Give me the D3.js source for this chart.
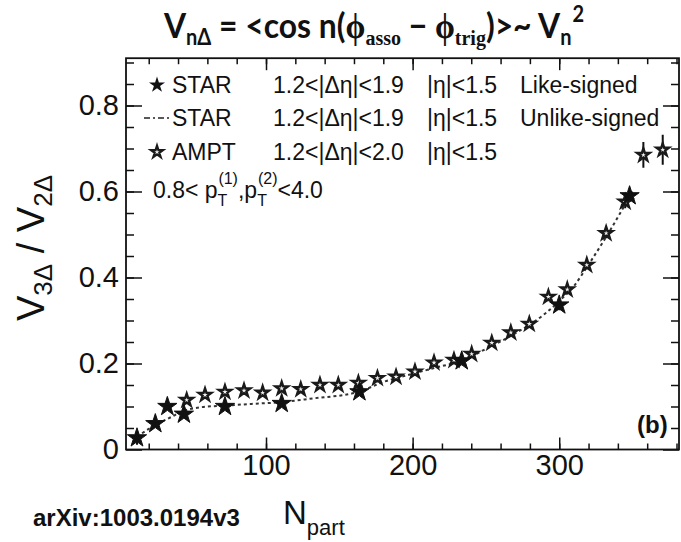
<!DOCTYPE html>
<html>
<head>
<meta charset="utf-8">
<script src="https://cdn.jsdelivr.net/npm/d3@7"></script>
<style>
  html, body { margin: 0; padding: 0; background: #fff; }
  svg { display: block; }
  text { fill: #111; }
</style>
</head>
<body>
<svg id="chart" width="681" height="542"></svg>
<script>
// STAR like-signed pairs (filled stars)
const starLikeNpart = [12, 24.5, 32.7, 44, 72, 110.7, 163.7, 233.5, 300, 348];
const starLikeRatio = [0.027, 0.06, 0.10, 0.082, 0.10, 0.107, 0.134, 0.206, 0.336, 0.59];
const starLikeErr   = [0.016, 0.008, 0.008, 0.008, 0.006, 0.006, 0.006, 0.006, 0.012, 0.014];

// AMPT (open stars)
const amptNpart = [45.9, 58.4, 72, 85, 97.7, 110.7, 123.7, 136.8, 149.3, 163, 176, 188.7, 201.6,
                   214.6, 228.2, 240.3, 254, 267, 279.6, 292.6, 305.5, 318.8, 332, 345, 357.4, 370.6];
const amptRatio = [0.115, 0.127, 0.134, 0.137, 0.132, 0.142, 0.14, 0.15, 0.15, 0.155, 0.166, 0.169, 0.181,
                   0.202, 0.208, 0.222, 0.248, 0.272, 0.292, 0.355, 0.372, 0.429, 0.503, 0.576, 0.685, 0.697];
const amptErr   = [0, 0, 0, 0, 0, 0, 0, 0, 0, 0, 0, 0, 0,
                   0, 0, 0, 0, 0, 0, 0.01, 0.01, 0.01, 0.012, 0.015, 0.03, 0.035];

// STAR unlike-signed pairs (dashed curve)
const unlikeNpart = [12, 25, 35, 44, 55, 72, 90, 110, 130, 163, 180, 200, 220, 233, 250, 270, 290, 300, 310, 320, 333, 345, 350];
const unlikeRatio = [0.03, 0.058, 0.075, 0.09, 0.098, 0.102, 0.106, 0.11, 0.118, 0.134, 0.157, 0.176, 0.194, 0.205,
                     0.234, 0.27, 0.315, 0.345, 0.38, 0.43, 0.5, 0.57, 0.6];

// Axis ticks
const xMajorTicks = [100, 200, 300];
const xMinorTicks = d3.range(20, 381, 20);
const yMajorTicks = [0, 0.2, 0.4, 0.6, 0.8];
const yMinorTicks = d3.range(0.05, 0.91, 0.05);

const svg = d3.select("#chart");
const L = 126, R = 679, T = 58.2, B = 449.5;

const x = d3.scaleLinear().domain([4.5, 381.7]).range([L, R]);
const y = d3.scaleLinear().domain([0, 0.91]).range([B, T]);

const FONT = "'Liberation Sans', Arial, Helvetica, sans-serif";
const SERIF = "'Liberation Serif', 'DejaVu Serif', serif";

// ---- Title ----
const title = svg.append("text")
  .attr("transform", "translate(374,38) scale(0.91,1)")
  .attr("text-anchor", "middle")
  .style("font-family", "Lato, 'Open Sans', sans-serif")
  .style("font-weight", "bold")
  .style("font-size", "35px");
title.append("tspan").text("V");
title.append("tspan").attr("dy", 7).style("font-size", "22px").text("nΔ");
title.append("tspan").attr("dy", -7).text(" = <cos n(");
title.append("tspan").style("font-family", SERIF).text("ϕ");
title.append("tspan").attr("dy", 7).style("font-size", "22px").style("font-family", SERIF).text("asso");
title.append("tspan").attr("dy", -7).text(" − ");
title.append("tspan").style("font-family", SERIF).text("ϕ");
title.append("tspan").attr("dy", 7).style("font-size", "22px").style("font-family", SERIF).text("trig");
title.append("tspan").attr("dy", -7).text(")>~ V");
title.append("tspan").attr("dy", 7).style("font-size", "22px").text("n");
title.append("tspan").attr("dy", -23).attr("dx", 1).style("font-size", "22px").text("2");

// ---- Axes: ticks point inward on all four sides ----
function styleAxis(g) {
  g.select(".domain").remove();
  g.selectAll(".tick line").attr("stroke", "#111").attr("stroke-width", 1.5);
  g.selectAll(".tick text").style("font-family", FONT).style("font-size", "29px").attr("fill", "#111");
}
const noLabel = () => "";

svg.append("g").attr("transform", `translate(0,${B})`)
  .call(d3.axisBottom(x).tickValues(xMinorTicks).tickSize(-6).tickFormat(noLabel)).call(styleAxis);
svg.append("g").attr("transform", `translate(0,${B})`)
  .call(d3.axisBottom(x).tickValues(xMajorTicks).tickSize(-12).tickPadding(5).tickFormat(d3.format("d"))).call(styleAxis);
svg.append("g").attr("transform", `translate(0,${T})`)
  .call(d3.axisTop(x).tickValues(xMinorTicks).tickSize(-6).tickFormat(noLabel)).call(styleAxis);
svg.append("g").attr("transform", `translate(0,${T})`)
  .call(d3.axisTop(x).tickValues(xMajorTicks).tickSize(-12).tickFormat(noLabel)).call(styleAxis);

svg.append("g").attr("transform", `translate(${L},0)`)
  .call(d3.axisLeft(y).tickValues(yMinorTicks).tickSize(-8).tickFormat(noLabel)).call(styleAxis);
svg.append("g").attr("transform", `translate(${L},0)`)
  .call(d3.axisLeft(y).tickValues(yMajorTicks).tickSize(-16).tickPadding(7).tickFormat(d => d === 0 ? "0" : d3.format(".1f")(d))).call(styleAxis);
svg.append("g").attr("transform", `translate(${R},0)`)
  .call(d3.axisRight(y).tickValues(yMinorTicks).tickSize(-8).tickFormat(noLabel)).call(styleAxis);
svg.append("g").attr("transform", `translate(${R},0)`)
  .call(d3.axisRight(y).tickValues(yMajorTicks).tickSize(-16).tickFormat(noLabel)).call(styleAxis);

// frame
svg.append("rect").attr("x", L).attr("y", T).attr("width", R - L).attr("height", B - T)
  .attr("fill", "none").attr("stroke", "#111").attr("stroke-width", 1.8);

// ---- Axis titles ----
const yTitle = svg.append("text")
  .attr("transform", "translate(44,248) rotate(-90)")
  .attr("text-anchor", "middle")
  .style("font-family", FONT).style("font-size", "38px");
yTitle.append("tspan").text("V");
yTitle.append("tspan").attr("dy", 8).style("font-size", "26px").text("3Δ");
yTitle.append("tspan").attr("dy", -8).text(" / V");
yTitle.append("tspan").attr("dy", 8).style("font-size", "26px").text("2Δ");

const xTitle = svg.append("text").attr("x", 283).attr("y", 524)
  .style("font-family", FONT).style("font-size", "33px");
xTitle.append("tspan").text("N");
xTitle.append("tspan").attr("dy", 11).style("font-size", "22px").text("part");

svg.append("text").attr("x", 33).attr("y", 526)
  .style("font-family", FONT).style("font-weight", "bold").style("font-size", "24px")
  .text("arXiv:1003.0194v3");

// ---- Data ----
svg.append("defs").append("clipPath").attr("id", "plot-clip")
  .append("rect").attr("x", L).attr("y", T).attr("width", R - L).attr("height", B - T);
const plot = svg.append("g").attr("clip-path", "url(#plot-clip)");

const unlike = d3.zip(unlikeNpart, unlikeRatio);
plot.append("path")
  .datum(unlike)
  .attr("fill", "none")
  .attr("stroke", "#333")
  .attr("stroke-width", 2)
  .attr("stroke-dasharray", "3,3")
  .attr("d", d3.line().x(d => x(d[0])).y(d => y(d[1])).curve(d3.curveMonotoneX));

const bigStar = d3.symbol(d3.symbolStar, 115);
const smallStar = d3.symbol(d3.symbolStar, 48);

const ampt = amptNpart.map((n, i) => ({ n, v: amptRatio[i], e: amptErr[i] }));
const starLike = starLikeNpart.map((n, i) => ({ n, v: starLikeRatio[i], e: starLikeErr[i] }));

// error bars
plot.append("g").selectAll("line")
  .data(ampt.concat(starLike).filter(d => d.e > 0))
  .join("line")
  .attr("x1", d => x(d.n)).attr("x2", d => x(d.n))
  .attr("y1", d => y(d.v - d.e)).attr("y2", d => y(d.v + d.e))
  .attr("stroke", "#111").attr("stroke-width", 2);

plot.append("g").selectAll("path")
  .data(ampt)
  .join("path")
  .attr("transform", d => `translate(${x(d.n)},${y(d.v)})`)
  .attr("d", smallStar)
  .attr("fill", "#eee")
  .attr("stroke", "#1a1a1a")
  .attr("stroke-width", 2.4)
  .attr("stroke-linejoin", "miter");

plot.append("g").selectAll("path")
  .data(starLike)
  .join("path")
  .attr("transform", d => `translate(${x(d.n)},${y(d.v)})`)
  .attr("d", bigStar)
  .attr("fill", "#111")
  .attr("stroke", "#111")
  .attr("stroke-width", 1);

// ---- Legend ----
const lg = svg.append("g").style("font-family", FONT).style("font-size", "23px");
const rows = [
  { y: 93, label: "STAR", cut: "1.2<|Δη|<1.9", eta: "|η|<1.5", kind: "Like-signed" },
  { y: 126, label: "STAR", cut: "1.2<|Δη|<1.9", eta: "|η|<1.5", kind: "Unlike-signed" },
  { y: 160, label: "AMPT", cut: "1.2<|Δη|<2.0", eta: "|η|<1.5", kind: "" }
];
rows.forEach((r, i) => {
  if (i === 0) {
    lg.append("path").attr("transform", `translate(157,${r.y - 8})`)
      .attr("d", d3.symbol(d3.symbolStar, 80)).attr("fill", "#111");
  } else if (i === 1) {
    lg.append("line").attr("x1", 144).attr("x2", 170).attr("y1", r.y - 8).attr("y2", r.y - 8)
      .attr("stroke", "#222").attr("stroke-width", 1.6).attr("stroke-dasharray", "6,3,2,3");
  } else {
    lg.append("path").attr("transform", `translate(157,${r.y - 8})`)
      .attr("d", d3.symbol(d3.symbolStar, 45)).attr("fill", "#eee").attr("stroke", "#1a1a1a").attr("stroke-width", 2.2);
  }
  lg.append("text").attr("x", 172).attr("y", r.y).text(r.label);
  lg.append("text").attr("x", 273).attr("y", r.y).text(r.cut);
  lg.append("text").attr("x", 427).attr("y", r.y).text(r.eta);
  if (r.kind) lg.append("text").attr("x", 520).attr("y", r.y).text(r.kind);
});

const pt = lg.append("text").attr("x", 153).attr("y", 198);
pt.append("tspan").text("0.8< p");
pt.append("tspan").attr("dy", 8).style("font-size", "16px").text("T");
pt.append("tspan").attr("dx", -9).attr("dy", -22).style("font-size", "16px").text("(1)");
pt.append("tspan").attr("dy", 14).text(",p");
pt.append("tspan").attr("dy", 8).style("font-size", "16px").text("T");
pt.append("tspan").attr("dx", -9).attr("dy", -22).style("font-size", "16px").text("(2)");
pt.append("tspan").attr("dy", 14).text("<4.0");

svg.append("text").attr("x", 637).attr("y", 433)
  .style("font-family", FONT).style("font-weight", "bold").style("font-size", "24px")
  .text("(b)");
</script>
</body>
</html>
